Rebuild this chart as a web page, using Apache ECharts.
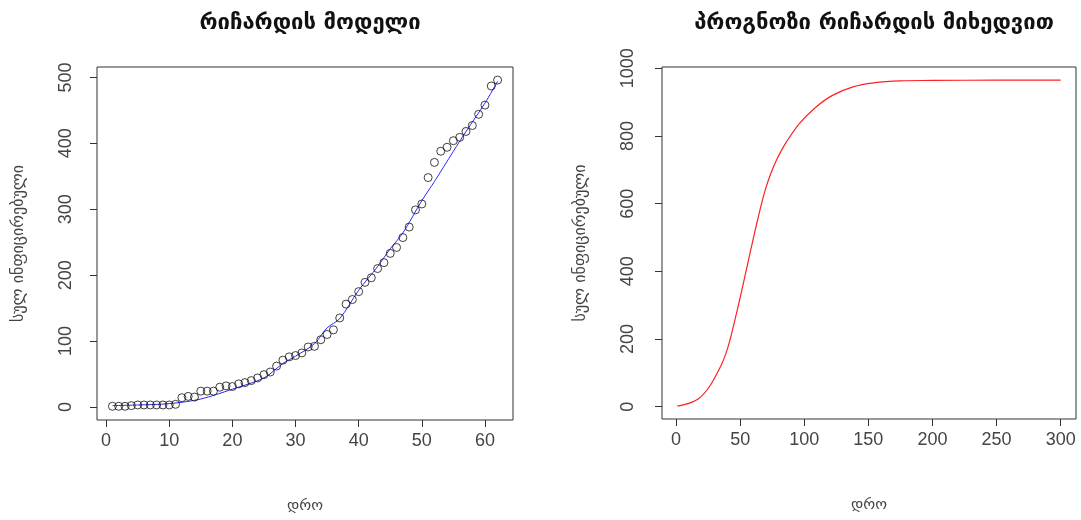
<!DOCTYPE html>
<html>
<head>
<meta charset="utf-8">
<script src="https://cdn.jsdelivr.net/npm/echarts@6/dist/echarts.min.js"></script>
<style>
  html, body { margin: 0; padding: 0; background: #ffffff; }
  #chart { width: 1081px; height: 520px; }
</style>
</head>
<body>
<div id="chart"></div>
<script>
// Observed cumulative infections, day 1..62
const days = [1,2,3,4,5,6,7,8,9,10,11,12,13,14,15,16,17,18,19,20,21,22,23,24,25,26,27,28,29,30,31,32,33,34,35,36,37,38,39,40,41,42,43,44,45,46,47,48,49,50,51,52,53,54,55,56,57,58,59,60,61,62];
const infected = [1,1,1,2,3,3,3,3,3,3,4,14,16,15,24,24,24,30,32,31,35,37,40,44,49,53,62,71,76,78,82,91,92,102,110,117,135,156,163,175,189,196,210,219,233,242,257,273,299,308,348,371,388,394,404,409,418,427,444,458,487,496];

// Richards model fitted values over the observed period
const fitDays = [1,5,10,15,20,25,28,30,33,35,37,40,43,45,47,50,52,55,57,60,62];
const fitValues = [2,3,5,12,27,44,66,77,96,120,134,177,213,240,264,313,342,388,418,461,494];

// Richards model forecast up to day 300
const forecastDays = [1,10,18,26,32,35,38,40,42,44,46,50,54,58,62,66,70,74,78,82,86,96,109,122,138,154,175,200,250,300];
const forecastValues = [2,10,25,59,99,121,148,170,196,226,258,322,390,459,526,590,646,690,726,756,782,836,885,920,945,957,963,964,965,965];

// Tick values for both panels
const leftXTicks = [0,10,20,30,40,50,60];
const leftYTicks = [0,100,200,300,400,500];
const rightXTicks = [0,50,100,150,200,250,300];
const rightYTicks = [0,200,400,600,800,1000];

const titles = ['რიჩარდის მოდელი', 'პროგნოზი რიჩარდის მიხედვით'];
const xName = 'დრო';
const yName = 'სულ ინფიცირებული';

const pair = (xs, ys) => xs.map((x, i) => [x, ys[i]]);
const plain = v => String(v);

const tickFont = 'Liberation Sans, Arial, sans-serif';
const geoFont = 'DejaVu Sans, sans-serif';

function xAxisDef(grid, min, max, ticks) {
  return {
    type: 'value', gridIndex: grid, min: min, max: max,
    splitLine: { show: false },
    axisLine: { show: false, onZero: false },
    axisTick: { show: true, customValues: ticks, length: 7, lineStyle: { color: '#333', width: 1 } },
    axisLabel: { customValues: ticks, formatter: plain, margin: 12, fontSize: 18, color: '#444', fontFamily: tickFont },
    name: xName, nameLocation: 'middle', nameGap: 79,
    nameTextStyle: { fontSize: 15, color: '#444', fontFamily: geoFont }
  };
}

function yAxisDef(grid, min, max, ticks, margin, gap) {
  return {
    type: 'value', gridIndex: grid, min: min, max: max,
    splitLine: { show: false },
    axisLine: { show: false, onZero: false },
    axisTick: { show: true, customValues: ticks, length: 7, lineStyle: { color: '#333', width: 1 } },
    axisLabel: { customValues: ticks, formatter: plain, margin: margin, rotate: 90, fontSize: 18, color: '#444', fontFamily: tickFont },
    name: yName, nameLocation: 'middle', nameGap: gap, nameRotate: 90,
    nameTextStyle: { fontSize: 16, color: '#444', fontFamily: geoFont }
  };
}

const chart = echarts.init(document.getElementById('chart'), null, { renderer: 'canvas' });
chart.setOption({
  backgroundColor: '#ffffff',
  animation: false,
  title: [
    { text: titles[0], left: 305, top: 7, textAlign: 'center',
      textStyle: { fontSize: 22, fontWeight: 'bold', color: '#111', fontFamily: geoFont } },
    { text: titles[1], left: 869, top: 7, textAlign: 'center',
      textStyle: { fontSize: 22, fontWeight: 'bold', color: '#111', fontFamily: geoFont } }
  ],
  grid: [
    { left: 97, top: 67, width: 416, height: 353, show: true, borderColor: '#333', borderWidth: 1, backgroundColor: 'transparent' },
    { left: 662, top: 67, width: 414, height: 352, show: true, borderColor: '#333', borderWidth: 1, backgroundColor: 'transparent' }
  ],
  xAxis: [
    xAxisDef(0, -1.44, 64.44, leftXTicks),
    xAxisDef(1, -10.96, 311.96, rightXTicks)
  ],
  yAxis: [
    yAxisDef(0, -19.8, 515.8, leftYTicks, 22, 70),
    yAxisDef(1, -36.3, 1003.8, rightYTicks, 25, 73)
  ],
  series: [
    {
      type: 'line', xAxisIndex: 0, yAxisIndex: 0,
      data: pair(fitDays, fitValues),
      smooth: 0.3, showSymbol: false,
      lineStyle: { color: '#2a2aff', width: 1 }, z: 2
    },
    {
      type: 'scatter', xAxisIndex: 0, yAxisIndex: 0,
      data: pair(days, infected),
      symbol: 'circle', symbolSize: 8,
      itemStyle: { color: 'rgba(0,0,0,0)', borderColor: '#111', borderWidth: 1 },
      z: 3
    },
    {
      type: 'line', xAxisIndex: 1, yAxisIndex: 1,
      data: pair(forecastDays, forecastValues),
      smooth: 0.3, showSymbol: false,
      lineStyle: { color: '#ff2020', width: 1.2 }
    }
  ]
});
</script>
</body>
</html>
